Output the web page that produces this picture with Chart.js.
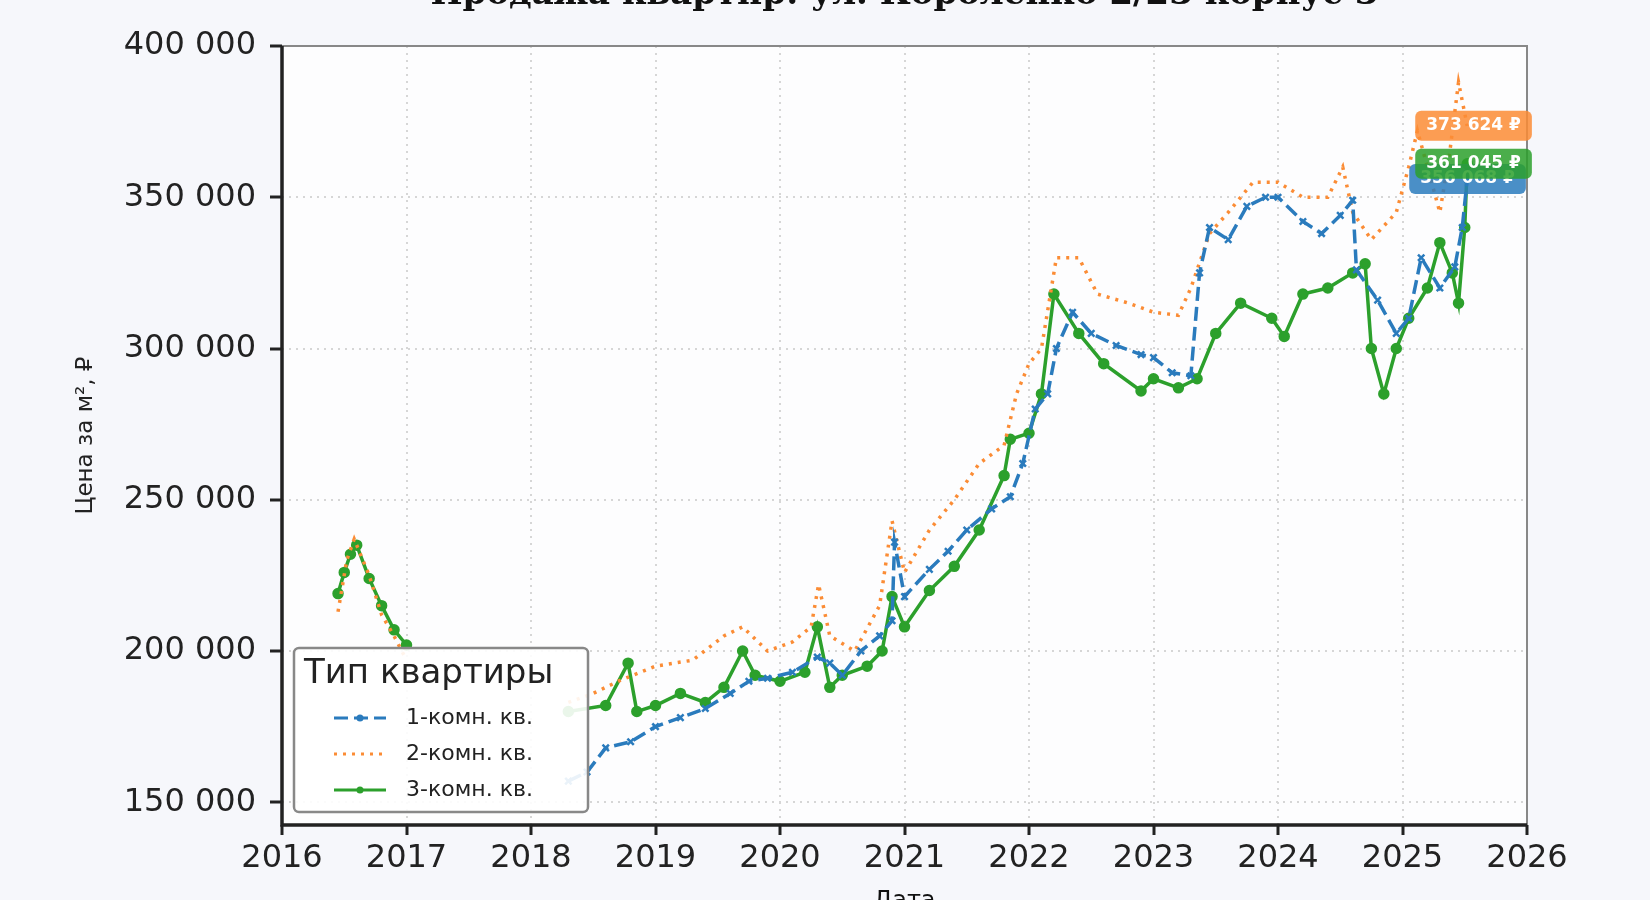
<!DOCTYPE html>
<html><head><meta charset="utf-8">
<script src="https://cdn.jsdelivr.net/npm/chart.js@4.4.1/dist/chart.umd.min.js"></script>
<style>html,body{margin:0;padding:0;background:#f6f7fb;}#w{width:1650px;height:900px;}</style>
</head><body><div id="w"><canvas id="c" width="1650" height="900"></canvas></div>
<script>
const titleText = "Продажа квартир: ул. Короленко 2/23 корпус 3";
const yTicks = [150000,200000,250000,300000,350000,400000];
const s1x=[2018.3,2018.45,2018.6,2018.8,2019.0,2019.2,2019.4,2019.6,2019.75,2019.9,2020.1,2020.3,2020.4,2020.5,2020.65,2020.8,2020.9,2020.92,2021.0,2021.2,2021.35,2021.5,2021.7,2021.85,2021.95,2022.05,2022.15,2022.22,2022.35,2022.5,2022.7,2022.9,2023.0,2023.15,2023.3,2023.37,2023.45,2023.6,2023.75,2023.9,2024.0,2024.2,2024.35,2024.5,2024.6,2024.63,2024.8,2024.95,2025.05,2025.15,2025.3,2025.42,2025.48,2025.52];
const s1y=[157000,160000,168000,170000,175000,178000,181000,186000,190000,191000,193000,198000,196000,192000,200000,205000,210000,236000,218000,227000,233000,240000,247000,251000,262000,280000,285000,300000,312000,305000,301000,298000,297000,292000,291000,325000,340000,336000,347000,350000,350000,342000,338000,344000,349000,326000,316000,305000,310000,330000,320000,327000,340000,356068];
const s2x=[2016.45,2016.52,2016.58,2016.7,2016.8,2016.9,2017.0,2018.3,2018.5,2018.7,2019.0,2019.3,2019.55,2019.7,2019.9,2020.1,2020.25,2020.31,2020.4,2020.6,2020.8,2020.9,2021.0,2021.2,2021.4,2021.6,2021.8,2021.9,2022.0,2022.1,2022.22,2022.4,2022.55,2022.8,2023.0,2023.2,2023.3,2023.45,2023.6,2023.8,2024.0,2024.2,2024.4,2024.52,2024.6,2024.75,2024.95,2025.05,2025.12,2025.3,2025.38,2025.45,2025.52];
const s2y=[213000,230000,237000,225000,212000,205000,197000,183000,186000,190000,195000,197000,205000,208000,200000,203000,208000,222000,205000,200000,215000,243000,226000,240000,250000,262000,268000,285000,295000,300000,330000,330000,318000,315000,312000,311000,320000,338000,345000,355000,355000,350000,350000,360000,345000,336000,345000,360000,372000,345000,365000,388000,373624];
const s3x=[2016.45,2016.5,2016.55,2016.6,2016.7,2016.8,2016.9,2017.0,2018.3,2018.6,2018.78,2018.85,2019.0,2019.2,2019.4,2019.55,2019.7,2019.8,2020.0,2020.2,2020.3,2020.4,2020.5,2020.7,2020.82,2020.9,2021.0,2021.2,2021.4,2021.6,2021.8,2021.85,2022.0,2022.1,2022.2,2022.4,2022.6,2022.9,2023.0,2023.2,2023.35,2023.5,2023.7,2023.95,2024.05,2024.2,2024.4,2024.6,2024.7,2024.75,2024.85,2024.95,2025.05,2025.2,2025.3,2025.4,2025.45,2025.5,2025.52];
const s3y=[219000,226000,232000,235000,224000,215000,207000,202000,180000,182000,196000,180000,182000,186000,183000,188000,200000,192000,190000,193000,208000,188000,192000,195000,200000,218000,208000,220000,228000,240000,258000,270000,272000,285000,318000,305000,295000,286000,290000,287000,290000,305000,315000,310000,304000,318000,320000,325000,328000,300000,285000,300000,310000,320000,335000,325000,315000,340000,361045];
const series=[
 {label:"1-комн. кв.",xs:s1x,ys:s1y,color:"#2a7bbd",dash:[14,6],pt:"crossRot",pr:4.5,last:"356 068 ₽"},
 {label:"2-комн. кв.",xs:s2x,ys:s2y,color:"#fb8c35",dash:[3,6],pt:false,pr:0,last:"373 624 ₽"},
 {label:"3-комн. кв.",xs:s3x,ys:s3y,color:"#2ca02c",dash:[],pt:"circle",pr:4.5,last:"361 045 ₽"}
];
const fmt=v=>String(v).replace(/\B(?=(\d{3})+(?!\d))/g," ");
const datasets=series.map(s=>({label:s.label,data:s.xs.map((x,i)=>({x,y:s.ys[i]})),borderColor:s.color,backgroundColor:s.color,borderDash:s.dash,borderWidth:3.5,pointStyle:s.pt||"circle",pointRadius:s.pr,pointBorderWidth:2.5,tension:0,spanGaps:false}));
datasets.forEach(d=>{const i=d.data.findIndex((p,k)=>k>0&&p.x-d.data[k-1].x>1);if(i>0)d.data.splice(i,0,{x:2017.5,y:null});});
function rr(ctx,x,y,w,h,r){ctx.beginPath();ctx.moveTo(x+r,y);ctx.arcTo(x+w,y,x+w,y+h,r);ctx.arcTo(x+w,y+h,x,y+h,r);ctx.arcTo(x,y+h,x,y,r);ctx.arcTo(x,y,x+w,y,r);ctx.closePath();}
const deco={id:"deco",
 beforeDraw(c){const {ctx,chartArea:a}=c;ctx.save();ctx.fillStyle="#fdfdfe";ctx.fillRect(a.left,a.top,a.right-a.left,a.bottom-a.top);ctx.restore();},
 afterDraw(c){const {ctx,chartArea:a,scales}=c;ctx.save();
  ctx.strokeStyle="#888";ctx.lineWidth=2;ctx.beginPath();ctx.moveTo(a.left,a.top);ctx.lineTo(a.right,a.top);ctx.lineTo(a.right,a.bottom);ctx.stroke();
  ctx.strokeStyle="#222";ctx.lineWidth=3.5;ctx.beginPath();ctx.moveTo(a.left,a.top);ctx.lineTo(a.left,a.bottom);ctx.lineTo(a.right,a.bottom);ctx.stroke();
  [0,2,1].forEach(k=>{const s=series[k];const y=scales.y.getPixelForValue(s.ys[s.ys.length-1]);const x=scales.x.getPixelForValue(s.xs[s.xs.length-1]);
   ctx.font="bold 17px 'DejaVu Sans'";const w=ctx.measureText(s.last).width+22;const bx=k===0?x-58:x-52;
   ctx.globalAlpha=0.85;ctx.fillStyle=s.color;rr(ctx,bx,y-15,w,30,6);ctx.fill();ctx.globalAlpha=1;
   ctx.fillStyle="#fff";ctx.textBaseline="middle";ctx.fillText(s.last,bx+11,y);});
  const lx=a.left+12,ly=648,lw=294,lh=164;
  ctx.globalAlpha=0.9;ctx.fillStyle="#fff";rr(ctx,lx,ly,lw,lh,5);ctx.fill();ctx.globalAlpha=1;
  ctx.strokeStyle="#888";ctx.lineWidth=2.5;rr(ctx,lx,ly,lw,lh,5);ctx.stroke();
  ctx.fillStyle="#222";ctx.textBaseline="middle";ctx.font="34px 'DejaVu Sans'";ctx.fillText("Тип квартиры",lx+10,ly+26);
  ctx.font="22px 'DejaVu Sans'";
  series.forEach((s,i)=>{const yy=ly+70+i*36;ctx.strokeStyle=s.color;ctx.lineWidth=3;ctx.setLineDash(s.dash);ctx.beginPath();ctx.moveTo(lx+40,yy);ctx.lineTo(lx+92,yy);ctx.stroke();ctx.setLineDash([]);
   if(s.pt){ctx.fillStyle=s.color;ctx.beginPath();ctx.arc(lx+66,yy,3.5,0,7);ctx.fill();}
   ctx.fillStyle="#222";ctx.fillText(s.label,lx+112,yy);});
  ctx.fillStyle="#111";ctx.textAlign="center";ctx.textBaseline="alphabetic";
  ctx.font="bold 34px 'DejaVu Serif'";ctx.fillText(titleText,(a.left+a.right)/2,4);
  ctx.font="24px 'DejaVu Sans'";ctx.textBaseline="top";ctx.fillText("Дата",(a.left+a.right)/2,890);
  ctx.restore();}};
new Chart(document.getElementById("c"),{type:"line",data:{datasets},plugins:[deco],
 options:{responsive:false,animation:false,layout:{padding:{top:46,right:123,bottom:0,left:68}},
  plugins:{legend:{display:false},tooltip:{enabled:false}},
  scales:{
   x:{type:"linear",min:2016,max:2026,afterFit(sc){sc.height=75;},
      ticks:{stepSize:1,color:"#222",font:{size:32,family:"DejaVu Sans"},padding:4,callback:v=>String(v)},
      grid:{color:"#d6d6d6",lineWidth:2,borderDash:[2,5],tickColor:"#222",tickLength:10,tickWidth:3},border:{display:false,dash:[2,5]}},
   y:{min:142500,max:400000,afterFit(sc){sc.width=214;},afterBuildTicks(sc){sc.ticks=yTicks.map(v=>({value:v}));},
      ticks:{color:"#222",font:{size:32,family:"DejaVu Sans"},padding:14,callback:v=>fmt(v)},
      title:{display:true,text:"Цена за м², ₽",color:"#222",font:{size:23,family:"DejaVu Sans"},padding:{bottom:4}},
      grid:{color:"#d6d6d6",lineWidth:2,tickColor:"#222",tickLength:12,tickWidth:3},border:{display:false,dash:[2,5]}}
  }}});
</script></body></html>
